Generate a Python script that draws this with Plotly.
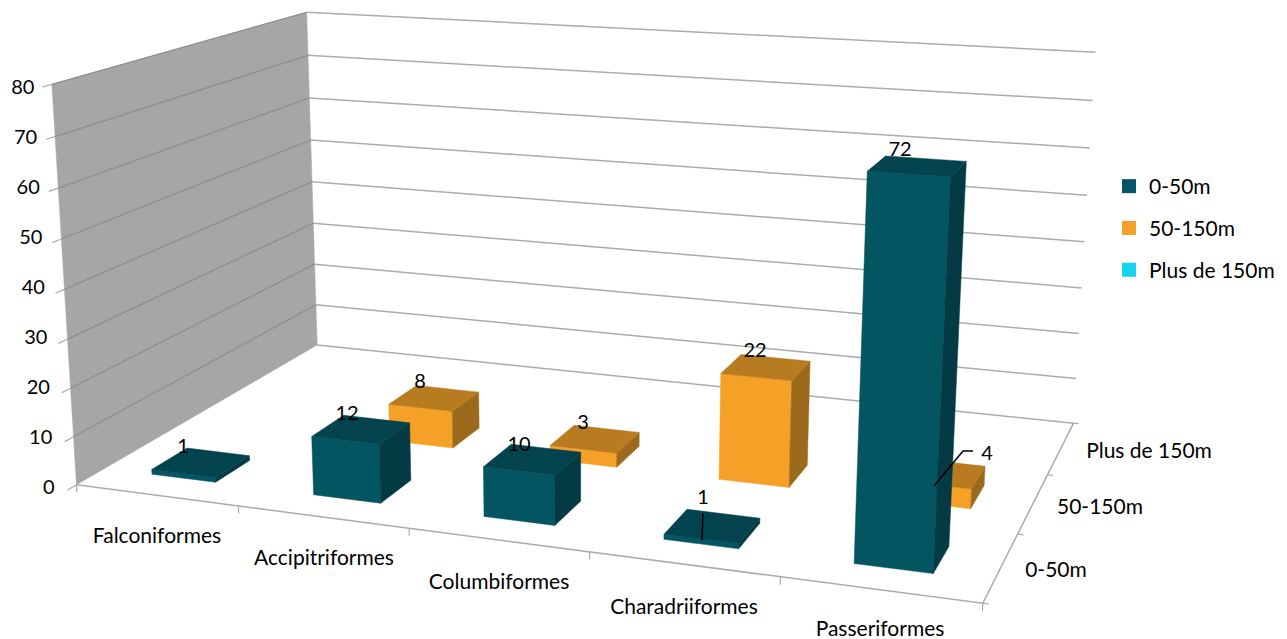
import numpy as np
import plotly.graph_objects as go

# ---------- data ----------
CATEGORIES = ["Falconiformes", "Accipitriformes", "Columbiformes", "Charadriiformes", "Passeriformes"]
SERIES = ["0-50m", "50-150m", "Plus de 150m"]
VALUES_0_50 = [1, 12, 10, 1, 72]
VALUES_50_150 = [0, 8, 3, 22, 4]
VALUES_PLUS_150 = [0, 0, 0, 0, 0]
Z_TICKS = [0, 10, 20, 30, 40, 50, 60, 70, 80]

# ---------- style ----------
W, H = 1287, 639
PAGE_MARGIN = 8  # the page body's own margin
FONT = "Lato"
FONT_SIZE = 21
NUM_SIZE = 20
LEGEND_COLORS = ["#045565", "#F5A027", "#17D2F0"]
FACE_COLORS = [
    dict(front="#045562", side="#033A44", top="#03434E"),
    dict(front="#F5A027", side="#9C6A1C", top="#B87B20"),
    dict(front="#17D2F0", side="#0F8EA3", top="#12A5BD"),
]
WALL_GRAY = "#A6A6A6"
WALL_LINE = "#8E8E8E"
GRID_GRAY = "#ABABAB"
GAP = 0.3  # gap either side of a bar (Excel gap width 150%)

# ---------- the 3D view: (category, series, value) on the chart box -> page pixel ----------
VIEW_ANCHORS = [
    ((0, 0, 0), (77, 485)), ((5, 0, 0), (983, 603)), ((5, 3, 0), (1073, 423)), ((0, 3, 0), (317, 345)),
    ((0, 0, 80), (52, 85)), ((0, 3, 80), (307, 12)), ((5, 3, 80), (1095, 52)),
    ((0, 0, 20), (70.5, 388)), ((0, 0, 40), (64, 289)), ((0, 0, 60), (58, 188)),
    ((0, 3, 20), (314.5, 264)), ((0, 3, 40), (312, 182)), ((0, 3, 60), (309.5, 98)),
    ((5, 3, 20), (1079, 334)), ((5, 3, 40), (1085, 242)), ((5, 3, 60), (1090, 148)),
]
A, b = [], []
for (x, y, z), (u, v) in VIEW_ANCHORS:
    A.append([x, y, z, 1, 0, 0, 0, 0, -u*x, -u*y, -u*z]); b.append(u)
    A.append([0, 0, 0, 0, x, y, z, 1, -v*x, -v*y, -v*z]); b.append(v)
M = np.append(np.linalg.lstsq(np.array(A, float), np.array(b, float), rcond=None)[0], 1).reshape(3, 4)

def project(x, y, z):
    p = M @ np.array([x, y, z, 1.0])
    return p[0]/p[2], p[1]/p[2]

fig = go.Figure()

def polygon(points, color):
    pts = [project(*p) for p in points]
    pts.append(pts[0])
    fig.add_trace(go.Scatter(x=[p[0] for p in pts], y=[p[1] for p in pts], mode="lines", fill="toself",
                             fillcolor=color, line=dict(color=color, width=0.5),
                             showlegend=False, hoverinfo="skip"))

def segment(points, color, width=1.5):
    pts = [project(*p) for p in points]
    fig.add_trace(go.Scatter(x=[p[0] for p in pts], y=[p[1] for p in pts], mode="lines",
                             line=dict(color=color, width=width), showlegend=False, hoverinfo="skip"))

def pixel_line(xs, ys, color="#000000", width=1.5):
    fig.add_trace(go.Scatter(x=xs, y=ys, mode="lines", line=dict(color=color, width=width),
                             showlegend=False, hoverinfo="skip"))

def label(x, y, text, pos="middle center", size=FONT_SIZE):
    fig.add_trace(go.Scatter(x=[x], y=[y], mode="text", text=[text], textposition=pos,
                             textfont=dict(family=FONT, size=size, color="#000000"),
                             showlegend=False, hoverinfo="skip"))

ZMAX = Z_TICKS[-1]
NC, NS = len(CATEGORIES), len(SERIES)

# walls
polygon([(0, 0, 0), (0, NS, 0), (0, NS, ZMAX), (0, 0, ZMAX)], WALL_GRAY)
for v in Z_TICKS[1:]:
    segment([(0, 0, v), (0, NS, v)], WALL_LINE, 1.3)
    segment([(0, NS, v), (NC, NS, v)], GRID_GRAY, 1.5)
# floor edges
segment([(0, NS, 0), (NC, NS, 0)], GRID_GRAY)
segment([(0, 0, 0), (NC, 0, 0), (NC, NS, 0)], GRID_GRAY)
# ticks
for v in Z_TICKS:
    segment([(0, 0, v), (0, -0.09, v)], GRID_GRAY, 1.2)
    x0, y0 = project(0, -0.09, v)
    label(x0 - 13 + v/16, 488.5 - v*4.99, str(v), "middle left", NUM_SIZE)
for c in range(NC + 1):
    segment([(c, 0, 0), (c, 0, -1.5)], GRID_GRAY, 1.2)
for s in range(NS + 1):
    segment([(NC, s, 0), (NC + 0.03, s, 0)], GRID_GRAY, 1.2)

# bars, back to front
ALL_VALUES = [VALUES_0_50, VALUES_50_150, VALUES_PLUS_150]
for s in reversed(range(NS)):
    for c in range(NC):
        v = ALL_VALUES[s][c]
        if v <= 0:
            continue
        x0, x1, y0, y1 = c + GAP, c + 1 - GAP, s + GAP, s + 1 - GAP
        col = FACE_COLORS[s]
        polygon([(x0, y0, 0), (x1, y0, 0), (x1, y0, v), (x0, y0, v)], col["front"])
        polygon([(x1, y0, 0), (x1, y1, 0), (x1, y1, v), (x1, y0, v)], col["side"])
        polygon([(x0, y0, v), (x1, y0, v), (x1, y1, v), (x0, y1, v)], col["top"])

# data labels and their leader lines
LABEL_POS = {(0, 0): (183, 448), (1, 0): (347, 415), (2, 0): (519, 446), (3, 0): (703, 499), (4, 0): (900, 151),
             (1, 1): (420, 383), (2, 1): (583, 424), (3, 1): (755, 352), (4, 1): (987, 455)}
for (c, s), (px, py) in LABEL_POS.items():
    label(px, py, str(ALL_VALUES[s][c]), size=NUM_SIZE)
pixel_line([703, 702], [513, 540])
pixel_line([973, 963, 934], [451, 451, 486])

# axis labels
CAT_LABEL_POS = [(157, 538), (324, 560), (499, 584), (684, 609), (880, 631)]
SERIES_LABEL_POS = [(1056, 572), (1100, 509), (1149, 453)]
for name, (px, py) in zip(CATEGORIES, CAT_LABEL_POS):
    label(px, py, name)
for name, (px, py) in zip(SERIES, SERIES_LABEL_POS):
    label(px, py, name)

# legend
for name, color in zip(SERIES, LEGEND_COLORS):
    fig.add_trace(go.Scatter(x=[None], y=[None], mode="markers", name=name, legendgroup=name,
                             marker=dict(symbol="square", size=14, color=color)))

PW, PH = W - PAGE_MARGIN, H - PAGE_MARGIN
fig.update_layout(
    width=PW, height=PH, margin=dict(l=0, r=0, t=0, b=0),
    paper_bgcolor="white", plot_bgcolor="white",
    xaxis=dict(range=[PAGE_MARGIN, W], visible=False, fixedrange=True),
    yaxis=dict(range=[H, PAGE_MARGIN], visible=False, fixedrange=True),
    legend=dict(x=(1109 - PAGE_MARGIN)/PW, xanchor="left", y=1-(166 - PAGE_MARGIN)/PH, yanchor="top", tracegroupgap=11.5,
                font=dict(family=FONT, size=FONT_SIZE, color="#000000"), bgcolor="rgba(0,0,0,0)"),
)
fig.write_html("out.html")
